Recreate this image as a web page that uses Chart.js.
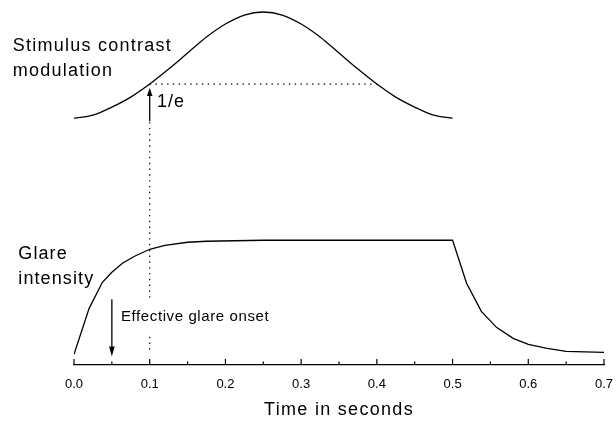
<!DOCTYPE html>
<html><head><meta charset="utf-8">
<script src="https://cdn.jsdelivr.net/npm/chart.js@4.4.0/dist/chart.umd.min.js"></script>
<style>html,body{margin:0;padding:0;background:#fff;}#wrap{width:616px;height:421px;}</style>
</head><body><div id="wrap"><canvas id="c" width="616" height="421"></canvas></div>
<script>
// ---- data (time in s, level in arbitrary plot units) ----
const contrastTime  = [0, 0.025, 0.05, 0.075, 0.1, 0.125, 0.15, 0.175, 0.2, 0.225, 0.25, 0.275, 0.3, 0.325, 0.35, 0.375, 0.4, 0.425, 0.45, 0.475, 0.5];
const contrastLevel = [246, 249, 257, 267, 280, 295, 311, 327, 340, 349, 352, 349, 340, 327, 311, 295, 280, 267, 257, 249, 246];
const glareTime  = [0, 0.02, 0.0375, 0.05, 0.064, 0.08, 0.1, 0.12, 0.15, 0.175, 0.25, 0.5, 0.5185, 0.538, 0.558, 0.58, 0.6, 0.625, 0.65, 0.7];
const glareLevel = [10, 56, 82, 92, 101, 108, 115, 119, 122, 123, 124, 124, 81, 53, 37, 26, 20, 16, 13, 12];
const tickValues = [0, 0.05, 0.1, 0.15, 0.2, 0.25, 0.3, 0.35, 0.4, 0.45, 0.5, 0.55, 0.6, 0.65, 0.7];
const tickLabels = ['0.0', '0.1', '0.2', '0.3', '0.4', '0.5', '0.6', '0.7'];
const majorTicks = [0, 0.1, 0.2, 0.3, 0.4, 0.5, 0.6, 0.7];
const axisTitle = 'Time in seconds';
const labelContrast = ['Stimulus contrast', 'modulation'];
const labelGlare = ['Glare', 'intensity'];
const labelOneOverE = '1/e';
const labelOnset = 'Effective glare onset';
// annotation anchors (data space)
const eLevel = 280, eStart = 0.1, eEnd = 0.4;
const onsetTime = 0.05;

const FONT = "'Liberation Sans', Arial, sans-serif";

function arrow(ctx, x, y0, y1, headLen, halfW) {
  const dir = y1 > y0 ? 1 : -1;
  ctx.beginPath(); ctx.moveTo(x, y0); ctx.lineTo(x, y1 - dir * headLen * 0.6); ctx.stroke();
  ctx.beginPath(); ctx.moveTo(x, y1); ctx.lineTo(x - halfW, y1 - dir * headLen); ctx.lineTo(x + halfW, y1 - dir * headLen); ctx.closePath(); ctx.fill();
}
function txt(ctx, s, x, y, size, sp, align) {
  ctx.font = size + 'px ' + FONT;
  ctx.letterSpacing = sp + 'px';
  ctx.textAlign = align || 'left';
  ctx.textBaseline = 'alphabetic';
  ctx.fillText(s, x, y);
  ctx.letterSpacing = '0px';
}

const annot = {
  id: 'annot',
  afterDraw(chart) {
    const {ctx, scales: {x, y}, chartArea} = chart;
    ctx.save();
    ctx.strokeStyle = '#000'; ctx.fillStyle = '#000';
    // inward tick marks
    ctx.lineWidth = 1.2;
    tickValues.forEach(v => {
      const px = x.getPixelForValue(v);
      const len = majorTicks.includes(v) ? 5.5 : 3;
      ctx.beginPath(); ctx.moveTo(px, chartArea.bottom); ctx.lineTo(px, chartArea.bottom - len); ctx.stroke();
    });
    // dotted guides
    ctx.lineWidth = 1.2; ctx.setLineDash([1.4, 4.4]);
    ctx.beginPath(); ctx.moveTo(x.getPixelForValue(eStart), y.getPixelForValue(eLevel)); ctx.lineTo(x.getPixelForValue(eEnd), y.getPixelForValue(eLevel)); ctx.stroke();
    ctx.beginPath(); ctx.moveTo(x.getPixelForValue(eStart), y.getPixelForValue(242)); ctx.lineTo(x.getPixelForValue(eStart), y.getPixelForValue(12)); ctx.stroke();
    ctx.setLineDash([]);
    // arrows
    ctx.lineWidth = 1.3;
    arrow(ctx, x.getPixelForValue(eStart), y.getPixelForValue(243), y.getPixelForValue(276), 8, 2.8);
    arrow(ctx, x.getPixelForValue(onsetTime), y.getPixelForValue(65), y.getPixelForValue(8), 10, 2.8);
    // text
    txt(ctx, labelContrast[0], 12.7, 50.7, 18, 1.25);
    txt(ctx, labelContrast[1], 12.7, 76, 18, 1.25);
    txt(ctx, labelGlare[0], 18.3, 259.3, 18, 1.1);
    txt(ctx, labelGlare[1], 18.3, 284.3, 18, 1.1);
    txt(ctx, labelOneOverE, 157, 107, 18, 1);
    ctx.fillStyle = '#fff'; ctx.fillRect(119, 301, 159, 35); ctx.fillStyle = '#000';
    txt(ctx, labelOnset, 121, 321, 15, 0.6);
    txt(ctx, axisTitle, (chartArea.left + chartArea.right) / 2, 415, 18, 1.3, 'center');
    ctx.restore();
  }
};

new Chart(document.getElementById('c'), {
  type: 'scatter',
  data: {
    datasets: [
      { data: contrastTime.map((t, i) => ({x: t, y: contrastLevel[i]})), showLine: true, borderColor: '#000', borderWidth: 1.3, pointRadius: 0, cubicInterpolationMode: 'monotone' },
      { data: glareTime.map((t, i) => ({x: t, y: glareLevel[i]})), showLine: true, borderColor: '#000', borderWidth: 1.3, pointRadius: 0, tension: 0 }
    ]
  },
  options: {
    responsive: false, devicePixelRatio: 1, animation: false,
    layout: { padding: { left: 74, right: 12, top: 8, bottom: 17 } },
    plugins: { legend: { display: false }, tooltip: { enabled: false } },
    scales: {
      x: {
        type: 'linear', min: 0, max: 0.7,
        afterBuildTicks: s => { s.ticks = majorTicks.map(v => ({value: v})); },
        afterFit: s => { s.paddingLeft = 0; s.paddingRight = 0; },
        ticks: { padding: 12, color: '#000', font: { family: FONT, size: 13 }, callback: (v, i) => tickLabels[i] },
        grid: { drawOnChartArea: false, drawTicks: false },
        border: { display: true, color: '#000', width: 1.3 }
      },
      y: { display: false, min: 0, max: 356 }
    }
  },
  plugins: [annot]
});
</script>
</body></html>
